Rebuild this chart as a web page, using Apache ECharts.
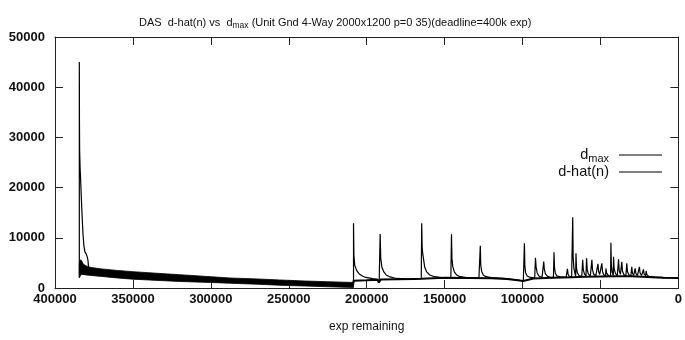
<!DOCTYPE html>
<html>
<head>
<meta charset="utf-8">
<script src="https://cdn.jsdelivr.net/npm/echarts@6/dist/echarts.min.js"></script>
<style>
html,body{margin:0;padding:0;background:#fff;}
#chart{width:685px;height:340px;}
</style>
</head>
<body>
<div id="chart"></div>
<script>
// ---- data ----
var titleText = 'DAS  d-hat(n) vs  d{sub|max} (Unit Gnd 4-Way 2000x1200 p=0 35)(deadline=400k exp)';
var xTicks = [0, 50000, 100000, 150000, 200000, 250000, 300000, 350000, 400000];
var yTicks = [0, 10000, 20000, 30000, 40000, 50000];
var xAxisName = 'exp remaining';
var seriesNames = ['d_max', 'd-hat(n)'];

// d-hat(n): oscillating band (lower / upper envelope) during the first run
var bandX    = [384400, 383800, 383000, 382000, 380000, 377000, 370000, 360000, 350000, 340000, 330000, 320000, 300000, 288000, 270000, 256000, 240000, 225000, 208450];
var bandLow  = [2000, 2400, 2700, 2700, 2600, 2500, 2300, 2000, 1750, 1600, 1450, 1300, 1100, 950, 750, 550, 400, 250, 100];
var bandHigh = [4800, 5600, 5500, 4800, 4400, 4100, 3800, 3500, 3250, 3050, 2850, 2650, 2250, 2000, 1800, 1600, 1400, 1250, 1100];

// d-hat(n): thin line after the restart
var dhatLine = [
  [208450, 1000], [208450, 1450], [200000, 1550], [193000, 1650], [192200, 1100], [191400, 1000], [191000, 1700],
  [180000, 1750], [170000, 1800], [165000, 1850], [164600, 2050], [150000, 2050], [135000, 2000], [120000, 1950],
  [110000, 1800], [103000, 1550], [99500, 1400], [98700, 1750], [93000, 1900], [85000, 2000], [75000, 2100],
  [68000, 2150], [60000, 2250], [50000, 2300], [40000, 2350], [30000, 2350], [20000, 2200], [10000, 2050], [0, 2000]
];

// d_max: first big spike
var dmaxFirst = [
  [384400, 2200], [384400, 45000], [384300, 33000], [384200, 27500], [383900, 24000], [383600, 22000],
  [383300, 19500], [382700, 15000], [382000, 10500], [381400, 8300], [380800, 7200], [380000, 6800],
  [379300, 6200], [378800, 5400], [378500, 4200], [376000, 3500], [350000, 2500], [300000, 1700],
  [256000, 1100], [208450, 600]
];

// d_max: later spikes with their decays
var dmaxSpikes = [
  [208450, 600], [208450, 12900], [208200, 6500], [207700, 4600], [206500, 3500], [204800, 2800], [202500, 2350], [200500, 2100], [196300, 1850], [193000, 1700], [192000, 1100], [191400, 1000],
  [191360, 1000], [191360, 10750], [191000, 6000], [190300, 4200], [189000, 3200], [187500, 2600], [185000, 2200], [181000, 1900], [175000, 1800], [165000, 1850],
  [164700, 1850], [164700, 12900], [164400, 8000], [164000, 6800], [163400, 5500], [162800, 4200], [161500, 3200], [159500, 2600], [156500, 2250], [152000, 2050], [146000, 2000],
  [145600, 2000], [145600, 10700], [145300, 6000], [144800, 4300], [143800, 3200], [142300, 2600], [140000, 2250], [136000, 2050], [128000, 1950],
  [127100, 1950], [127100, 8400], [126800, 4500], [126200, 3300], [125200, 2600], [123500, 2250], [120000, 2050], [112000, 1900], [104000, 1600], [99500, 1400],
  [98800, 1450], [98800, 8900], [98500, 4300], [98000, 3000], [97000, 2400], [95000, 2100], [92200, 2000],
  [91700, 2000], [91700, 6000], [91300, 4200], [90600, 3000], [89500, 2400], [87500, 2100], [86800, 2050],
  [86400, 2050], [86400, 5250], [86000, 3700], [85300, 2800], [84000, 2300], [81500, 2100], [80200, 2100],
  [79800, 2100], [79800, 7100], [79500, 4200], [79000, 3000], [78000, 2400], [75000, 2150], [72000, 2150],
  [71200, 2150], [71200, 3800], [70800, 2800], [70000, 2300], [68500, 2200], [68000, 2200],
  [67800, 2200], [67800, 14100], [67500, 6000], [67000, 3800], [66300, 2800], [65900, 2400],
  [65700, 2300], [65700, 6900], [65400, 4000], [64800, 3000], [63800, 2500], [62000, 2300], [61600, 2300],
  [61400, 2300], [61400, 5600], [61000, 3600], [60300, 2800], [59300, 2400], [59000, 2300],
  [58900, 2300], [58900, 5900], [58500, 3700], [57800, 2800], [56500, 2400], [55700, 2300],
  [55500, 2300], [55500, 5600], [55100, 3600], [54400, 2800], [53000, 2400], [51800, 2300],
  [51600, 2300], [51600, 4800], [51200, 3300], [50500, 2700], [49300, 2350],
  [49100, 2300], [49100, 4900], [48700, 3300], [48000, 2700], [46700, 2350],
  [46500, 2300], [46500, 3900], [46100, 3000], [45000, 2500], [43500, 2300],
  [43300, 2300], [43300, 9000], [43000, 4500], [42500, 3200], [41800, 2500],
  [41600, 2400], [41600, 6200], [41200, 3800], [40400, 2900], [39200, 2450], [38600, 2400],
  [38400, 2400], [38400, 5700], [38000, 3500], [37200, 2700], [36500, 2400],
  [36300, 2400], [36300, 5200], [35900, 3400], [35000, 2700], [33700, 2400], [33300, 2400],
  [33100, 2400], [33100, 4900], [32700, 3300], [31800, 2650], [30500, 2400], [30100, 2350],
  [29900, 2350], [29900, 4200], [29500, 3000], [28700, 2500], [27900, 2350],
  [27700, 2350], [27700, 3900], [27300, 2900], [26300, 2450], [25200, 2350],
  [25000, 2350], [25000, 4200], [24600, 3000], [23600, 2500], [22600, 2350],
  [22400, 2350], [22400, 3700], [22000, 2800], [21000, 2400], [20900, 2350],
  [20700, 2350], [20700, 3400], [20300, 2700], [19000, 2300], [15000, 2150], [8000, 2050], [0, 2000]
];

// ---- chart ----
var FONT = '"Liberation Sans", Arial, sans-serif';
var INK = '#111';
var chart = echarts.init(document.getElementById('chart'), null, {renderer: 'canvas'});

function axisCommon(isX, pos, showLabel) {
  var ticks = isX ? xTicks : yTicks;
  return {
    type: 'value',
    position: pos,
    min: ticks[0],
    max: ticks[ticks.length - 1],
    interval: ticks[1] - ticks[0],
    inverse: isX,
    splitLine: {show: false},
    axisLine: {show: true, onZero: false, lineStyle: {color: '#222', width: 1}},
    axisTick: {show: true, inside: true, length: 8, lineStyle: {color: '#222', width: 1}},
    axisLabel: {
      show: showLabel, margin: isX ? 5 : 10, fontSize: 13, fontWeight: 'bold',
      color: INK, fontFamily: FONT,
      formatter: function (v) { return String(v); }
    }
  };
}

var xBottom = axisCommon(true, 'bottom', true);
xBottom.name = xAxisName;
xBottom.nameLocation = 'middle';
xBottom.nameGap = 33;
xBottom.nameTextStyle = {fontSize: 12, color: INK, fontFamily: FONT};
var xTop = axisCommon(true, 'top', false);
var yLeft = axisCommon(false, 'left', true);
var yRight = axisCommon(false, 'right', false);

var option = {
  animation: false,
  backgroundColor: '#fff',
  color: ['#000', '#000'],
  title: {
    text: titleText,
    left: 134,
    top: 10,
    textStyle: {
      fontSize: 11, fontWeight: 'normal', color: INK, fontFamily: FONT,
      rich: {sub: {fontSize: 8.5, fontFamily: FONT, color: INK, padding: [6, 0, 0, 0]}}
    }
  },
  legend: {
    orient: 'vertical',
    align: 'right',
    right: 18,
    top: 142,
    itemGap: 0,
    itemWidth: 43,
    itemHeight: 1.2,
    icon: 'rect',
    data: seriesNames,
    formatter: function (name) { return name === 'd_max' ? 'd{sub|max}' : name; },
    textStyle: {
      fontSize: 14.5, color: INK, fontFamily: FONT, padding: [0, 5, 0, 0], lineHeight: 16,
      rich: {sub: {fontSize: 11, fontFamily: FONT, color: INK, padding: [7, 0, 0, 0]}}
    }
  },
  grid: {left: 55, right: 5, top: 37, bottom: 52, containLabel: false},
  xAxis: [xBottom, xTop],
  yAxis: [yLeft, yRight],
  series: [
    {
      type: 'custom',
      name: seriesNames[1],
      xAxisIndex: 0, yAxisIndex: 0,
      itemStyle: {color: '#000'},
      data: bandX.map(function (x, i) { return [x, bandLow[i], bandHigh[i]]; }),
      encode: {x: 0, y: [1, 2]},
      renderItem: function (params, api) {
        if (params.dataIndex !== 0) return null;
        var top = [], bot = [];
        for (var i = 0; i < bandX.length; i++) {
          top.push(api.coord([bandX[i], bandHigh[i]]));
          bot.push(api.coord([bandX[i], bandLow[i]]));
        }
        return {type: 'polygon', shape: {points: top.concat(bot.reverse())}, style: {fill: '#000', stroke: '#000', lineWidth: 0.8}};
      }
    },
    {
      type: 'line', name: seriesNames[1], data: dhatLine, symbol: 'none', showSymbol: false,
      lineStyle: {color: '#000', width: 2}
    },
    {
      type: 'line', name: seriesNames[0], data: dmaxFirst, symbol: 'none', showSymbol: false,
      lineStyle: {color: '#000', width: 1.2}
    },
    {
      type: 'line', name: seriesNames[0], data: dmaxSpikes, symbol: 'none', showSymbol: false,
      lineStyle: {color: '#000', width: 1.2}
    }
  ]
};
chart.setOption(option);
</script>
</body>
</html>
